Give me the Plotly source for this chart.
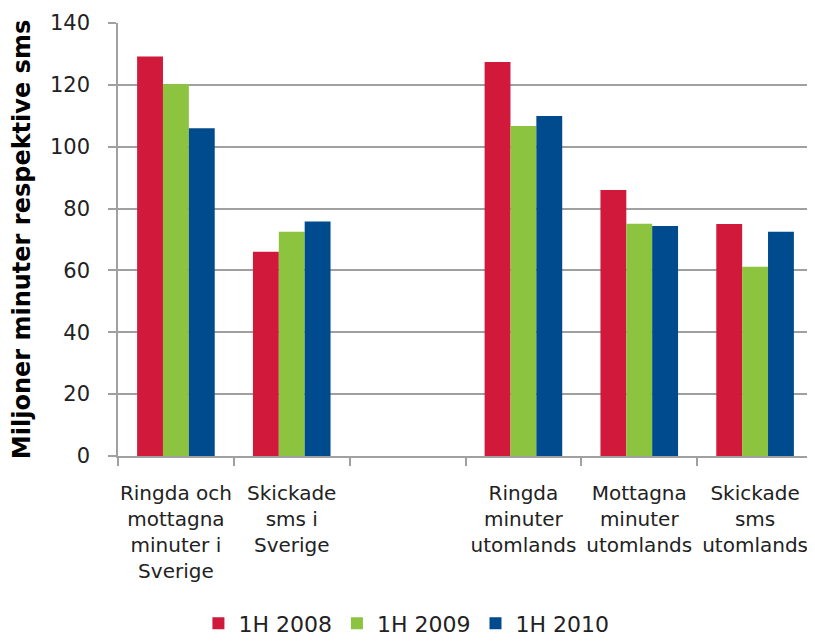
import plotly.graph_objects as go

categories = [
    "Ringda och<br>mottagna<br>minuter i<br>Sverige",
    "Skickade<br>sms i<br>Sverige",
    " ",
    "Ringda<br>minuter<br>utomlands",
    "Mottagna<br>minuter<br>utomlands",
    "Skickade<br>sms<br>utomlands",
]
h2008 = [129.2, 66.0, None, 127.4, 86.0, 75.0]
h2009 = [120.2, 72.5, None, 106.7, 75.1, 61.2]
h2010 = [106.0, 75.8, None, 109.9, 74.4, 72.5]

series = [
    ("1H 2008", h2008, "#d11a3b"),
    ("1H 2009", h2009, "#8cc43f"),
    ("1H 2010", h2010, "#004b8d"),
]

grid = "#a0a0a0"
font = "Verdana, DejaVu Sans, sans-serif"

fig = go.Figure()
for name, vals, color in series:
    fig.add_trace(go.Bar(x=categories, y=vals, name=name, marker_color=color,
                         marker_line_width=0))

# page body adds 8px, so the figure is a bit smaller than the window
fig.update_layout(
    width=807, height=635,
    margin=dict(l=110, r=2, t=15, b=187, autoexpand=False),
    paper_bgcolor="white", plot_bgcolor="white",
    barmode="group", bargap=0.33, bargroupgap=0,
    showlegend=True,
    legend=dict(orientation="h", x=0.415, xanchor="center", y=-0.338, yanchor="top",
                font=dict(family=font, size=22, color="#222"),
                itemsizing="constant"),
)
fig.update_xaxes(
    type="category", tickson="boundaries", ticks="outside", ticklen=8,
    tickcolor=grid, tickwidth=1.5, showline=True, linecolor=grid, linewidth=1.5,
    showgrid=False, ticklabelstandoff=18, automargin=False, tickangle=0,
    tickfont=dict(family=font, size=20, color="#222"),
)
fig.update_yaxes(
    range=[0, 140], dtick=20, ticks="outside", ticklen=8, tickcolor=grid, tickwidth=1.5,
    showline=True, linecolor=grid, linewidth=1.5, showgrid=True, gridcolor=grid,
    gridwidth=1.5, zeroline=False, ticklabelstandoff=14, automargin=False,
    tickfont=dict(family=font, size=21, color="#222"),
    title=dict(text="<b>Miljoner minuter respektive sms</b>", standoff=20,
               font=dict(family=font, size=24, color="black")),
)

fig.write_html("out.html")
